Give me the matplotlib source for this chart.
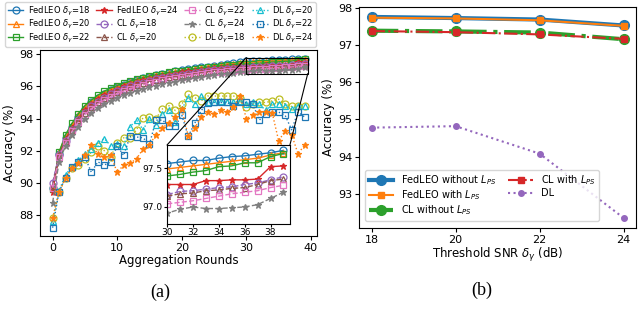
import numpy as np
import matplotlib
matplotlib.use('Agg')
import matplotlib.pyplot as plt
from matplotlib.patches import Rectangle, ConnectionPatch

# ---- data ----
rounds = np.arange(40)

fedleo_18 = [89.7, 91.8, 92.8, 93.5, 94.1, 94.6, 95.0, 95.3, 95.55, 95.75,
             95.95, 96.1, 96.25, 96.4, 96.5, 96.6, 96.7, 96.78, 96.86, 96.93,
             97.0, 97.06, 97.12, 97.18, 97.24, 97.3, 97.35, 97.4, 97.45, 97.5,
             97.56, 97.58, 97.6, 97.6, 97.63, 97.65, 97.66, 97.68, 97.7, 97.73]
fedleo_20 = [89.6, 91.9, 92.9, 93.6, 94.2, 94.7, 95.05, 95.35, 95.6, 95.8,
             95.95, 96.1, 96.25, 96.38, 96.5, 96.6, 96.68, 96.76, 96.84, 96.9,
             96.97, 97.03, 97.09, 97.15, 97.2, 97.26, 97.31, 97.36, 97.41, 97.45,
             97.49, 97.51, 97.53, 97.55, 97.57, 97.59, 97.61, 97.63, 97.67, 97.7]
fedleo_22 = [89.6, 91.9, 93.0, 93.7, 94.3, 94.8, 95.15, 95.45, 95.7, 95.9,
             96.05, 96.2, 96.33, 96.45, 96.55, 96.65, 96.73, 96.8, 96.87, 96.93,
             96.99, 97.04, 97.09, 97.14, 97.19, 97.24, 97.28, 97.32, 97.36, 97.39,
             97.4, 97.42, 97.45, 97.47, 97.52, 97.53, 97.57, 97.57, 97.65, 97.69]
fedleo_24 = [89.45, 91.7, 92.7, 93.4, 94.0, 94.5, 94.9, 95.2, 95.45, 95.65,
             95.85, 96.0, 96.15, 96.27, 96.38, 96.48, 96.57, 96.65, 96.73, 96.8,
             96.87, 96.93, 96.99, 97.04, 97.09, 97.13, 97.17, 97.21, 97.24, 97.27,
             97.29, 97.29, 97.29, 97.34, 97.34, 97.35, 97.35, 97.36, 97.52, 97.53]
cl_18 = [90.0, 91.7, 92.6, 93.3, 93.9, 94.35, 94.75, 95.05, 95.3, 95.5,
         95.7, 95.85, 96.0, 96.12, 96.24, 96.35, 96.44, 96.52, 96.6, 96.67,
         96.74, 96.8, 96.86, 96.91, 96.96, 97.0, 97.04, 97.08, 97.11, 97.14,
         97.16, 97.2, 97.21, 97.23, 97.25, 97.26, 97.29, 97.31, 97.35, 97.39]
cl_20 = [89.8, 91.7, 92.6, 93.3, 93.9, 94.35, 94.7, 95.0, 95.25, 95.45,
         95.65, 95.8, 95.95, 96.08, 96.2, 96.3, 96.4, 96.48, 96.56, 96.63,
         96.7, 96.76, 96.82, 96.87, 96.92, 96.97, 97.01, 97.05, 97.09, 97.12,
         97.14, 97.17, 97.18, 97.21, 97.22, 97.24, 97.25, 97.29, 97.34, 97.36]
cl_22 = [89.7, 91.6, 92.5, 93.2, 93.8, 94.25, 94.6, 94.9, 95.15, 95.35,
         95.55, 95.7, 95.85, 95.98, 96.1, 96.2, 96.3, 96.38, 96.46, 96.54,
         96.61, 96.67, 96.73, 96.79, 96.84, 96.88, 96.92, 96.96, 96.99, 97.02,
         97.04, 97.06, 97.08, 97.11, 97.14, 97.17, 97.19, 97.21, 97.25, 97.28]
cl_24 = [88.75, 91.3, 92.3, 93.0, 93.5, 94.0, 94.35, 94.65, 94.9, 95.1,
         95.3, 95.45, 95.6, 95.72, 95.84, 95.95, 96.05, 96.14, 96.22, 96.3,
         96.38, 96.45, 96.52, 96.58, 96.64, 96.7, 96.75, 96.8, 96.85, 96.89,
         96.92, 96.97, 97.0, 96.98, 96.98, 96.99, 97.0, 97.03, 97.11, 97.19]
dl_18 = [87.8, 89.4, 90.3, 90.9, 91.1, 91.5, 91.9, 92.3, 92.0, 91.6,
         92.5, 92.8, 92.8, 93.3, 94.05, 94.1, 94.0, 94.6, 94.8, 94.5,
         94.9, 95.5, 95.3, 95.1, 95.4, 95.4, 95.4, 95.4, 95.4, 95.3,
         94.7, 94.9, 95.0, 95.0, 95.1, 95.2, 94.9, 94.75, 94.8, 94.8]
dl_20 = [87.6, 89.5, 90.5, 91.0, 91.4, 91.8, 92.1, 92.5, 92.75, 92.3,
         92.4, 92.3, 93.5, 93.9, 93.3, 94.0, 93.6, 94.3, 94.5, 93.8,
         94.6, 95.3, 94.9, 95.4, 95.0, 95.0, 95.1, 95.0, 95.0, 95.1,
         94.9, 95.0, 94.9, 94.5, 94.9, 94.9, 94.8, 94.6, 94.8, 94.8]
dl_22 = [87.2, 89.45, 90.3, 91.0, 91.3, 91.6, 90.65, 91.3, 91.1, 91.3,
         92.3, 91.7, 92.9, 92.85, 92.8, 92.4, 93.9, 93.9, 93.55, 93.55,
         94.2, 92.9, 93.7, 94.5, 94.95, 95.0, 95.0, 95.0, 94.8, 95.0,
         95.0, 94.9, 93.9, 94.3, 94.4, 94.4, 94.2, 93.3, 94.4, 94.1]
dl_24 = [87.8, 89.4, 90.3, 90.9, 91.2, 91.7, 92.35, 91.8, 91.6, 91.7,
         90.65, 91.1, 91.2, 91.5, 92.1, 92.35, 93.0, 93.4, 93.75, 94.1,
         94.6, 92.9, 93.4, 94.1, 94.4, 94.3, 94.5, 94.4, 94.7, 95.4,
         94.0, 94.2, 94.4, 94.4, 94.35, 92.6, 93.25, 93.0, 91.8, 92.35]

snr = [18, 20, 22, 24]
fedleo_wo_lps = [97.76, 97.73, 97.69, 97.53]
fedleo_w_lps = [97.74, 97.72, 97.67, 97.52]
cl_wo_lps = [97.39, 97.37, 97.34, 97.16]
cl_w_lps = [97.38, 97.35, 97.29, 97.17]
dl_final = [94.78, 94.82, 94.08, 92.35]

series = [fedleo_18, fedleo_20, fedleo_22, fedleo_24,
          cl_18, cl_20, cl_22, cl_24,
          dl_18, dl_20, dl_22, dl_24]
names = ['FedLEO', 'CL', 'DL']
deltas = [18, 20, 22, 24]
markers = ['o', '^', 's', '*']
styles = ['-', '--', ':']
colors = ['C0', 'C1', 'C2', 'C3', 'C4', 'C5', 'C6', 'C7', 'C8', 'C9', 'C0', 'C1']

fig = plt.figure(figsize=(6.4, 3.28), dpi=100)
ax = fig.add_axes([0.0625, 0.28, 0.433, 0.567])
axins = fig.add_axes([0.261, 0.317, 0.192, 0.241])

for i, y in enumerate(series):
    g, k = divmod(i, 4)
    mfc = colors[i] if markers[k] == '*' else 'none'
    kw = dict(color=colors[i], ls=styles[g], marker=markers[k], ms=5, lw=1,
              mfc=mfc, mew=0.9)
    ax.plot(rounds, y, label=f'{names[g]} $\\delta_\\gamma$={deltas[k]}', **kw)
    axins.plot(rounds, y, **kw)

ax.set_xlabel('Aggregation Rounds', fontsize=8.5, labelpad=1)
ax.set_ylabel('Accuracy (%)', fontsize=8.5, labelpad=2)
ax.set_xticks([0, 10, 20, 30, 40])
ax.set_yticks([88, 90, 92, 94, 96, 98])
ax.tick_params(labelsize=8, length=3, pad=2)

axins.set_xlim(30, 39.5)
axins.set_ylim(96.78, 97.8)
axins.set_xticks([30, 32, 34, 36, 38])
axins.set_yticks([97.0, 97.5])
axins.tick_params(labelsize=6.5, length=2, pad=1)

ax.add_patch(Rectangle((30, 96.8), 9.5, 1.0, fill=False, ec='black', lw=0.8, zorder=5))
for xa, ya, xb, yb in [(30, 97.8, 30, 97.8), (39.5, 96.8, 39.5, 97.8)]:
    con = ConnectionPatch(xyA=(xa, ya), coordsA=ax.transData,
                          xyB=(xb, yb), coordsB=axins.transData,
                          color='black', lw=0.8)
    fig.add_artist(con)

fig.legend(*ax.get_legend_handles_labels(), loc='upper left',
           bbox_to_anchor=(0.008, 0.994), ncol=4, fontsize=6,
           handlelength=1.9, columnspacing=0.7, handletextpad=0.5,
           labelspacing=0.05, borderpad=0.3, borderaxespad=0)

# ---- panel (b) ----
bx = fig.add_axes([0.561, 0.305, 0.433, 0.674])
bx.plot(snr, fedleo_wo_lps, color='C0', ls='-', marker='o', ms=7, lw=3,
        label='FedLEO without $L_{PS}$')
bx.plot(snr, fedleo_w_lps, color='C1', ls='-', marker='s', ms=5, lw=1.5,
        label='FedLEO with $L_{PS}$')
bx.plot(snr, cl_wo_lps, color='C2', ls='-.', marker='o', ms=7, lw=3,
        label='CL without $L_{PS}$')
bx.plot(snr, cl_w_lps, color='C3', ls='-.', marker='s', ms=5, lw=1.5,
        label='CL with $L_{PS}$')
bx.plot(snr, dl_final, color='C4', ls=':', marker='o', ms=4, lw=1.5,
        label='DL')
bx.set_xticks(snr)
bx.set_yticks([93, 94, 95, 96, 97, 98])
bx.tick_params(labelsize=8, length=3, pad=2)
bx.set_xlabel('Threshold SNR $\\delta_\\gamma$ (dB)', fontsize=8.5, labelpad=1)
bx.set_ylabel('Accuracy (%)', fontsize=8.5, labelpad=2)
bx.legend(loc='lower left', ncol=2, fontsize=7, handlelength=2.5,
          columnspacing=1.2, labelspacing=0.1, borderpad=0.4,
          bbox_to_anchor=(0.005, 0.01))

fig.text(0.25, 0.095, '(a)', fontsize=13, family='Liberation Serif', ha='center')
fig.text(0.753, 0.1, '(b)', fontsize=13, family='Liberation Serif', ha='center')

fig.savefig('out.png', dpi=100)
